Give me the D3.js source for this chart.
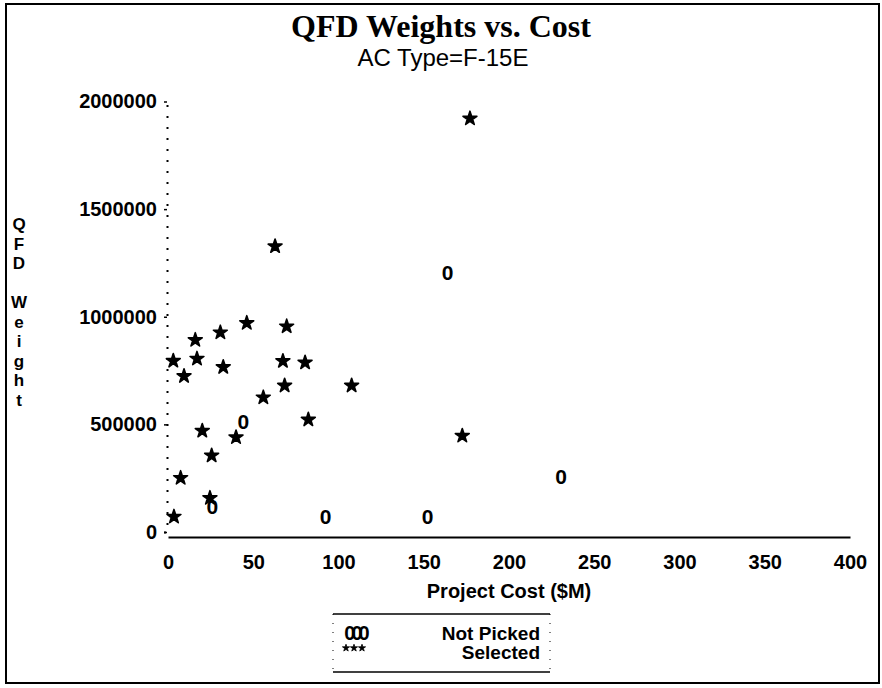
<!DOCTYPE html>
<html>
<head>
<meta charset="utf-8">
<script src="https://cdn.jsdelivr.net/npm/d3@7"></script>
<style>
  html, body { margin: 0; padding: 0; background: #fff; }
  svg { display: block; }
</style>
</head>
<body>
<svg id="chart" width="882" height="688"></svg>
<script>
// ---- data ----
const selectedCost   = [3.1, 9.4, 16.0, 17.0, 30.7, 46.2, 32.4, 69.6, 67.4, 80.4, 68.4, 55.9, 107.7, 82.3, 20.1, 39.9, 25.6, 7.4, 24.6, 3.5, 177.1, 172.6, 62.8];
const selectedWeight = [795000, 724000, 892000, 805000, 927000, 971000, 766000, 955000, 794000, 787000, 680000, 625000, 680000, 522000, 470000, 440000, 355000, 251000, 158000, 71000, 1921000, 447000, 1327000];
const notPickedCost   = [44.2, 26.0, 92.5, 164.0, 230.5, 152.3];
const notPickedWeight = [513000, 118000, 71000, 1206000, 257000, 74000];
const xTicks = [0, 50, 100, 150, 200, 250, 300, 350, 400];
const yTicks = [0, 500000, 1000000, 1500000, 2000000];
const titleText = "QFD Weights vs. Cost";
const subtitleText = "AC Type=F-15E";
const xLabel = "Project Cost ($M)";
const yLabel = "QFD Weight";
const legendLabels = ["Not Picked", "Selected"];

const svg = d3.select("#chart");
const x = d3.scaleLinear().domain([0, 400]).range([168, 850]);
const y = d3.scaleLinear().domain([0, 2000000]).range([532, 101.5]);
const sans = "Liberation Sans, Arial, sans-serif";

// frame
svg.append("rect").attr("x", 6).attr("y", 4).attr("width", 873).attr("height", 679)
  .attr("fill", "none").attr("stroke", "#000").attr("stroke-width", 2);

// titles
svg.append("text").attr("x", 441).attr("y", 37).attr("text-anchor", "middle")
  .attr("font-family", "Liberation Serif, Times New Roman, serif").attr("font-weight", "bold")
  .attr("font-size", 32).text(titleText);
svg.append("text").attr("x", 443).attr("y", 66).attr("text-anchor", "middle")
  .attr("font-family", sans)
  .attr("font-size", 24).text(subtitleText);

// y axis
const yAxis = d3.axisLeft(y).tickValues(yTicks).tickSize(3).tickPadding(7).tickFormat(d3.format("d"));
const gy = svg.append("g").attr("transform", "translate(167,0)").call(yAxis);
gy.select(".domain").attr("stroke-dasharray", "2,9").attr("stroke-width", 2);
gy.selectAll(".tick line").attr("stroke-width", 1.5);
gy.selectAll("text").attr("font-family", sans)
  .attr("font-weight", "bold").attr("font-size", 20).attr("fill", "#000");

// x axis
const xAxis = d3.axisBottom(x).tickValues(xTicks).tickSize(0).tickPadding(18).tickFormat(d3.format("d"));
const gx = svg.append("g").attr("transform", "translate(0,537)").call(xAxis);
gx.select(".domain").attr("stroke-width", 2);
gx.selectAll("text").attr("font-family", sans)
  .attr("font-weight", "bold").attr("font-size", 20).attr("fill", "#000");

// axis labels
svg.append("text").attr("x", 509).attr("y", 598).attr("text-anchor", "middle")
  .attr("font-family", sans).attr("font-weight", "bold")
  .attr("font-size", 20).text(xLabel);

const yLetters = yLabel.split("");
svg.append("g").selectAll("text").data(yLetters).join("text")
  .attr("x", 19).attr("y", (d, i) => 230 + i * 19.5)
  .attr("text-anchor", "middle")
  .attr("font-family", sans).attr("font-weight", "bold")
  .attr("font-size", 17).text(d => d);

// points
const star = d3.symbol().type(d3.symbolStar).size(60);
const selData = selectedCost.map((c, i) => ({c, w: selectedWeight[i]}));
const npData = notPickedCost.map((c, i) => ({c, w: notPickedWeight[i]}));

svg.append("g").selectAll("path").data(selData).join("path")
  .attr("d", star).attr("transform", d => `translate(${x(d.c)},${y(d.w)})`)
  .attr("fill", "#000").attr("stroke", "#000").attr("stroke-width", 1.6).attr("stroke-linejoin", "round");

svg.append("g").selectAll("text").data(npData).join("text")
  .attr("x", d => x(d.c)).attr("y", d => y(d.w)).attr("dy", "0.36em")
  .attr("text-anchor", "middle")
  .attr("font-family", sans).attr("font-weight", "bold")
  .attr("font-size", 21).text("0");

// legend
const lg = svg.append("g");
lg.append("line").attr("x1", 333).attr("x2", 550).attr("y1", 614).attr("y2", 614).attr("stroke", "#000").attr("stroke-width", 1.5);
lg.append("line").attr("x1", 333).attr("x2", 550).attr("y1", 672).attr("y2", 672).attr("stroke", "#000").attr("stroke-width", 1.5);
lg.append("line").attr("x1", 333).attr("x2", 333).attr("y1", 614).attr("y2", 672).attr("stroke", "#000").attr("stroke-dasharray", "1,8");
lg.append("line").attr("x1", 550).attr("x2", 550).attr("y1", 614).attr("y2", 672).attr("stroke", "#000").attr("stroke-dasharray", "1,8");
lg.append("text").attr("x", 355).attr("y", 640).attr("text-anchor", "middle")
  .attr("font-family", sans).attr("font-weight", "bold")
  .attr("font-size", 20).attr("letter-spacing", -4).text("000");
const smallStar = d3.symbol().type(d3.symbolStar).size(16);
[346, 354, 362].forEach(px => {
  lg.append("path").attr("d", smallStar).attr("transform", `translate(${px},648)`)
    .attr("fill", "#000").attr("stroke", "#000").attr("stroke-width", 0.8);
});
lg.selectAll(".lab").data(legendLabels).join("text").attr("class", "lab")
  .attr("x", 540).attr("y", (d, i) => 640 + i * 19).attr("text-anchor", "end")
  .attr("font-family", sans).attr("font-weight", "bold")
  .attr("font-size", 19).text(d => d);
</script>
</body>
</html>
